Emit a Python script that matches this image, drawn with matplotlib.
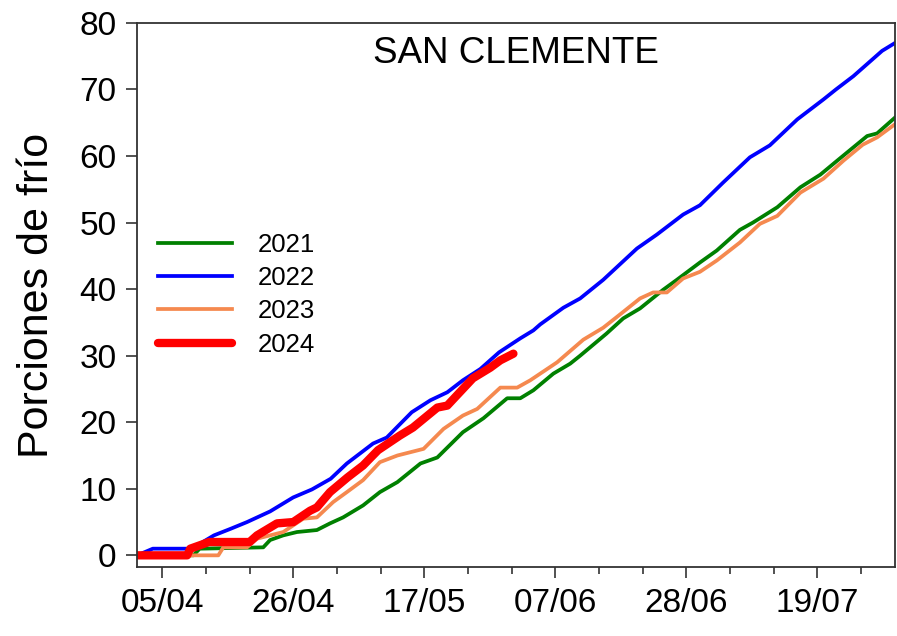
import pandas as pd
import matplotlib
matplotlib.use('Agg')
import matplotlib.pyplot as plt
import matplotlib.dates as mdates
from matplotlib.ticker import FixedLocator

plt.rcParams['font.family'] = ['Liberation Sans', 'DejaVu Sans']

# dias desde el 01/04 y porciones de frio acumuladas
dias_2021 = [0, 9, 10, 20.2, 21.3, 23.4, 25.6, 28.8, 30.9, 33, 36.2, 38.9, 41.7, 45.4, 48.1,
             52.2, 55.5, 59.3, 61.4, 63.5, 66.7, 69.4, 71, 75.2, 77.9, 80.6, 84.3, 86.5,
             90.2, 92.9, 96.6, 98.7, 102.6, 106.3, 109.5, 112.2, 117, 118.6, 121.5]
pf_2021 = [0, 0, 1, 1.2, 2.3, 3, 3.5, 3.8, 4.8, 5.7, 7.5, 9.5, 11, 13.8, 14.7,
           18.5, 20.6, 23.6, 23.6, 24.8, 27.3, 28.8, 30, 33.3, 35.6, 37.1, 39.9, 41.4,
           44, 45.8, 48.9, 50, 52.3, 55.3, 57.2, 59.3, 63, 63.4, 65.8]

dias_2022 = [0, 2.5, 9.6, 10.5, 12.3, 15, 17.6, 21.3, 25, 28, 31, 33.6, 37.8, 40, 44, 47,
             49.7, 52.2, 55, 58, 61.4, 63.5, 64.6, 68.3, 71, 74.7, 80.1, 83.3, 87.5, 90.2,
             93.9, 98.2, 101.4, 105.8, 110, 112, 114.8, 119.4, 121.5]
pf_2022 = [0, 1, 1, 2, 3, 4, 5, 6.6, 8.7, 9.9, 11.5, 13.8, 16.8, 17.7, 21.5, 23.3,
           24.5, 26.3, 28, 30.5, 32.6, 33.8, 34.7, 37.2, 38.6, 41.4, 46.1, 48.2, 51.2, 52.6,
           56, 59.8, 61.6, 65.5, 68.5, 70, 72, 75.8, 77]

dias_2023 = [0, 13, 13.8, 17.6, 19.2, 23.4, 26.6, 28.8, 31.4, 33.6, 36.2, 38.9, 41.7, 45.9,
             49.1, 52.2, 54.5, 58.2, 60.9, 63, 67.3, 71.5, 74.7, 77.4, 80.6, 82.7, 84.9,
             87.5, 90.2, 92.9, 96.6, 99.8, 102.6, 106.3, 110, 113.2, 116.3, 118.6, 121.5]
pf_2023 = [0, 0, 1.2, 1.2, 2.5, 3.5, 5.5, 5.7, 8, 9.5, 11.3, 14, 15, 16,
           19, 21, 22, 25.2, 25.2, 26.3, 29, 32.4, 34.2, 36.2, 38.6, 39.5, 39.5,
           41.6, 42.6, 44.3, 47, 49.8, 51, 54.5, 56.6, 59.3, 61.7, 62.8, 64.8]

dias_2024 = [0, 8, 8.5, 11.5, 18, 19.2, 22.4, 25, 27.7, 28.8, 30.9, 33.7, 36.2, 38.6,
             42.1, 44.2, 48.1, 49.7, 52.2, 53.8, 56.6, 58.2, 60.3]
pf_2024 = [0, 0, 1, 2, 2, 3, 4.8, 5, 6.7, 7.2, 9.5, 11.7, 13.5, 15.8,
           18, 19.2, 22.2, 22.5, 25, 26.6, 28.2, 29.3, 30.3]

inicio = pd.Timestamp('2024-04-01')


def fechas(dias):
    return inicio + pd.to_timedelta(dias, unit='D')


def main():
    fig = plt.figure(figsize=(8.97, 6.36), dpi=100)
    ax = fig.add_axes([0.153, 0.108, 0.845, 0.856])

    ax.plot(fechas(dias_2021), pf_2021, color='#008000', lw=2.7, label='2021')
    ax.plot(fechas(dias_2022), pf_2022, color='#0000FF', lw=2.7, label='2022')
    ax.plot(fechas(dias_2023), pf_2023, color='#F5894F', lw=2.7, label='2023')
    ax.plot(fechas(dias_2024), pf_2024, color='#FF0000', lw=6, label='2024',
            solid_capstyle='round', solid_joinstyle='round')

    ax.set_xlim(inicio, inicio + pd.Timedelta(days=121.5))
    ax.set_ylim(-1.8, 80)
    ax.set_yticks(range(0, 81, 10))

    # marcas cada 21 dias con etiqueta, y cada 7 dias sin etiqueta
    mayores = pd.date_range('2024-04-05', periods=6, freq='21D')
    menores = pd.date_range('2024-04-05', periods=18, freq='7D')
    ax.xaxis.set_major_locator(FixedLocator(mdates.date2num(mayores)))
    ax.xaxis.set_minor_locator(FixedLocator(mdates.date2num(menores)))
    ax.xaxis.set_major_formatter(mdates.DateFormatter('%d/%m'))

    ax.tick_params(axis='both', which='major', direction='out', length=8, width=1.2,
                   labelsize=24, pad=7, colors='#333333', labelcolor='black')
    ax.tick_params(axis='x', which='minor', direction='out', length=5, width=1.2, colors='#333333')
    for s in ax.spines.values():
        s.set_linewidth(1.3)
        s.set_color('#333333')

    ax.set_ylabel('Porciones de frío', fontsize=31, labelpad=16)
    ax.text(0.5, 0.943, 'SAN CLEMENTE', transform=ax.transAxes, ha='center', va='center',
            fontsize=26.5)

    ax.legend(loc='upper left', bbox_to_anchor=(0.0, 0.652), frameon=False, fontsize=18.5,
              handlelength=2.9, handletextpad=1.0, labelspacing=0.36, borderaxespad=0.4)

    fig.savefig('out.png', dpi=100)


if __name__ == '__main__':
    main()
